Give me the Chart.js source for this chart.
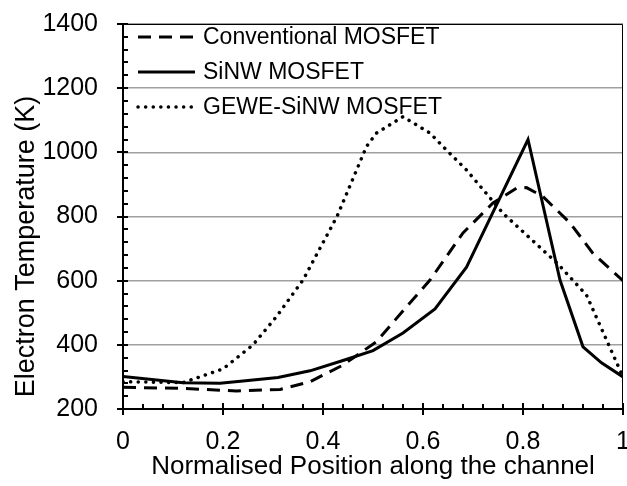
<!DOCTYPE html>
<html>
<head>
<meta charset="utf-8">
<script src="https://cdn.jsdelivr.net/npm/chart.js@4"></script>
<style>
  html, body { margin: 0; padding: 0; background: #fff; }
  #wrap { width: 627px; height: 486px; }
</style>
</head>
<body>
<div id="wrap"><canvas id="chart" width="627" height="486"></canvas></div>
<script>
// values
const xConv = [0, 0.12, 0.227, 0.314, 0.374, 0.44, 0.507, 0.57, 0.614, 0.68, 0.74, 0.787, 0.807, 0.84, 0.894, 0.94, 1];
const yConv = [268, 264, 256, 261, 285, 337, 410, 524, 602, 749, 842, 888, 890, 862, 780, 685, 600];

const xSinw = [0, 0.12, 0.194, 0.24, 0.31, 0.374, 0.44, 0.5, 0.56, 0.624, 0.687, 0.81, 0.874, 0.92, 0.957, 1];
const ySinw = [301, 282, 280, 287, 298, 319, 351, 382, 437, 512, 642, 1040, 602, 394, 344, 300];

const xGewe = [0, 0.12, 0.2, 0.26, 0.307, 0.36, 0.428, 0.487, 0.507, 0.56, 0.614, 0.647, 0.687, 0.76, 0.868, 0.927, 1];
const yGewe = [285, 282, 325, 400, 488, 602, 800, 1018, 1060, 1111, 1060, 1007, 945, 810, 655, 555, 300];

const seriesNames = ['Conventional MOSFET', 'SiNW MOSFET', 'GEWE-SiNW MOSFET'];
const xTicks = [0, 0.2, 0.4, 0.6, 0.8, 1];
const yTicks = [200, 400, 600, 800, 1000, 1200, 1400];
const yTitle = 'Electron Temperature (K)';

function pts(xs, ys) {
    return xs.map((x, i) => ({x: x, y: ys[i]}));
}

const FONT = 'Liberation Sans, Arial, sans-serif';

// minor/major tick marks, plot frame, y title and in-plot legend
const decor = {
    id: 'decor',
    afterDatasetsDraw(chart) {
        const ctx = chart.ctx;
        const a = chart.chartArea;
        const xs = chart.scales.x, ys = chart.scales.y;
        ctx.save();
        ctx.strokeStyle = '#000';
        // frame top + right
        ctx.lineWidth = 1;
        ctx.beginPath();
        ctx.moveTo(a.left, a.top + 0.5);
        ctx.lineTo(a.right - 0.5, a.top + 0.5);
        ctx.lineTo(a.right - 0.5, a.bottom);
        ctx.stroke();
        // axes
        ctx.lineWidth = 2;
        ctx.beginPath();
        ctx.moveTo(a.left, a.top);
        ctx.lineTo(a.left, a.bottom);
        ctx.lineTo(a.right, a.bottom);
        ctx.stroke();
        // y ticks
        for (let v = 200; v <= 1400; v += 40) {
            const p = Math.round(ys.getPixelForValue(v));
            const major = (v % 200 === 0);
            ctx.beginPath();
            ctx.moveTo(a.left - (major ? 6 : 0), p);
            ctx.lineTo(a.left + 5, p);
            ctx.stroke();
        }
        // x ticks
        for (let i = 0; i <= 25; i++) {
            const p = Math.round(xs.getPixelForValue(i * 0.04));
            const major = (i % 5 === 0);
            ctx.beginPath();
            ctx.moveTo(p, a.bottom + (major ? 6 : 0));
            ctx.lineTo(p, a.bottom - (major ? 6 : 5));
            ctx.stroke();
        }
        ctx.fillStyle = '#000';
        // y title (sits a bit below the plot centre in the original)
        ctx.save();
        ctx.font = '27px ' + FONT;
        ctx.textAlign = 'center';
        ctx.textBaseline = 'alphabetic';
        ctx.translate(34, (a.top + a.bottom) / 2 + 30);
        ctx.rotate(-Math.PI / 2);
        ctx.fillText(yTitle, 0, 0);
        ctx.restore();
        // legend
        ctx.font = '23px ' + FONT;
        ctx.textBaseline = 'middle';
        chart.data.datasets.forEach((ds, i) => {
            const y = a.top + 13 + i * 35;
            ctx.save();
            ctx.lineWidth = ds.borderWidth;
            ctx.setLineDash(ds.borderDash || []);
            ctx.lineCap = ds.borderCapStyle || 'butt';
            ctx.beginPath();
            ctx.moveTo(a.left + 15, y);
            ctx.lineTo(a.left + 72, y);
            ctx.stroke();
            ctx.restore();
            ctx.fillText(ds.label, a.left + 80, y + 1);
        });
        ctx.restore();
    }
};

const ctx = document.getElementById('chart').getContext('2d');
const myChart = new Chart(ctx, {
    type: 'scatter',
    data: {
        datasets: [{
            label: seriesNames[0],
            data: pts(xConv, yConv),
            showLine: true,
            borderColor: '#000',
            borderWidth: 3,
            borderDash: [13, 8],
            pointRadius: 0,
            tension: 0
        }, {
            label: seriesNames[1],
            data: pts(xSinw, ySinw),
            showLine: true,
            borderColor: '#000',
            borderWidth: 3,
            pointRadius: 0,
            tension: 0
        }, {
            label: seriesNames[2],
            data: pts(xGewe, yGewe),
            showLine: true,
            borderColor: '#000',
            borderWidth: 3.5,
            borderDash: [0.1, 7.5],
            borderCapStyle: 'round',
            pointRadius: 0,
            tension: 0
        }]
    },
    options: {
        responsive: false,
        animation: false,
        layout: {
            padding: {left: 6, right: 4, top: 24, bottom: 4}
        },
        plugins: {
            legend: {display: false},
            tooltip: {enabled: false}
        },
        scales: {
            x: {
                type: 'linear',
                min: 0,
                max: 1,
                afterBuildTicks: s => { s.ticks = xTicks.map(v => ({value: v})); },
                afterFit: s => { s.height = 73; s.paddingLeft = 0; s.paddingRight = 0; },
                border: {display: false},
                grid: {display: false, drawTicks: false},
                ticks: {
                    color: '#000',
                    padding: 18,
                    maxRotation: 0,
                    font: {family: FONT, size: 25},
                    callback: v => String(v)
                },
                title: {
                    display: true,
                    text: 'Normalised Position along the channel',
                    color: '#000',
                    font: {family: FONT, size: 26},
                    padding: {top: 0, bottom: 0}
                }
            },
            y: {
                min: 200,
                max: 1400,
                afterBuildTicks: s => { s.ticks = yTicks.map(v => ({value: v})); },
                afterFit: s => { s.width = 117; s.paddingTop = 0; s.paddingBottom = 0; },
                border: {display: false},
                grid: {color: '#a0a0a0', lineWidth: 1.5, drawTicks: false},
                ticks: {
                    color: '#000',
                    padding: 25,
                    font: {family: FONT, size: 25},
                    callback: v => String(v)
                }
            }
        }
    },
    plugins: [decor]
});
</script>
</body>
</html>
